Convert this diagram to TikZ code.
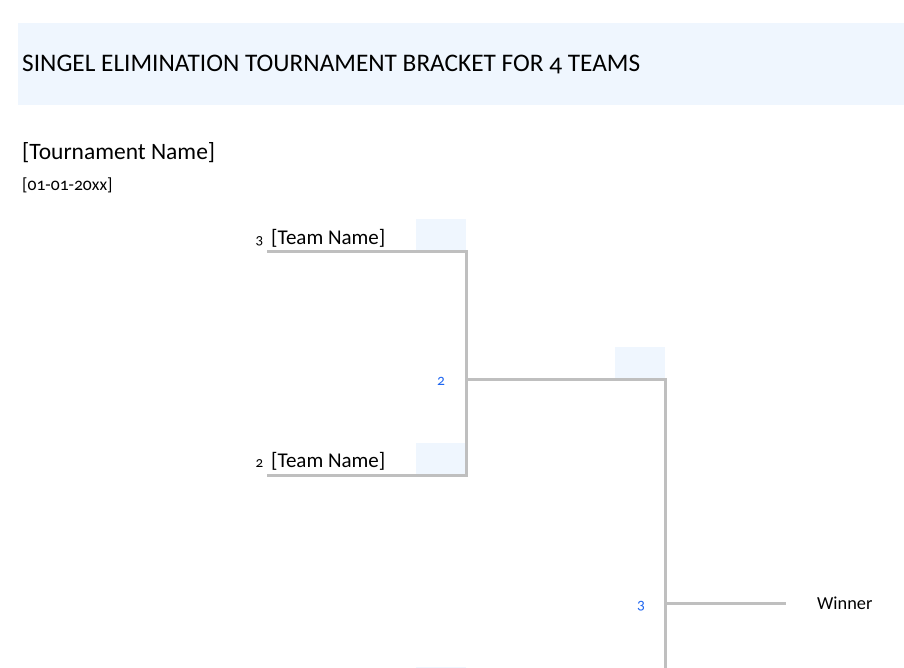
\documentclass[tikz,border=0pt]{standalone}
\usepackage{fontspec}
\setmainfont{Carlito}[Numbers=OldStyle]
\usepackage{xcolor}
\usetikzlibrary{positioning}
\definecolor{bandblue}{HTML}{EFF6FE}
\definecolor{linegray}{HTML}{BFBFBF}
\definecolor{seedblue}{HTML}{1F66F0}

\begin{document}
\begin{tikzpicture}[x=1pt,y=-1pt,
    bline/.style={draw=linegray,line width=3pt},
    scorebox/.style={fill=bandblue},
    lbl/.style={anchor=base west,inner sep=0pt},
    team/.style={lbl,font=\fontsize{21}{25}\selectfont},
    seed/.style={lbl,font=\fontsize{15}{18}\selectfont},
    game/.style={lbl,font=\fontsize{15.5}{18}\selectfont,text=seedblue}]
\useasboundingbox (0,0) rectangle (904,668);
% header
\fill[bandblue] (18,23) rectangle (904,105);
\node[lbl,font=\fontsize{25.3}{30}\selectfont] (title) at (22,72)
  {SINGEL ELIMINATION TOURNAMENT BRACKET FOR 4 TEAMS};
\node[lbl,font=\fontsize{23.5}{28}\selectfont] (tname) at (22,160) {[Tournament Name]};
\node[lbl,font=\fontsize{17.6}{21}\selectfont] (tdate) at (22,191) {[01-01-20xx]};
% score boxes
\fill[scorebox] (416,219) rectangle (466,250);
\fill[scorebox] (416,443) rectangle (466,474);
\fill[scorebox] (615,347) rectangle (665,378);
\fill[scorebox] (416,667) rectangle (466,680);
% round 1
\coordinate (a1) at (267,251.5);
\coordinate (a2) at (466,251.5);
\coordinate (b1) at (267,475);
\coordinate (b2) at (466,475);
\node[seed] (s1) at (255.5,244) {3};
\node[team] (n1) at (271,244) {[Team Name]};
\node[seed] (s2) at (255.5,467.5) {2};
\node[team] (n2) at (271,467.5) {[Team Name]};
\draw[bline] (a1) -- (a2) -- (b2) -- (b1);
% round 2
\coordinate (c1) at (466,379.5);
\coordinate (c2) at (665,379.5);
\coordinate (c3) at (665,680);
\node[game] (g2) at (437,385) {2};
\draw[bline] (c1) -- (c2) -- (c3);
% final
\coordinate (d1) at (665,603.5);
\coordinate (d2) at (785.5,603.5);
\node[game] (g3) at (637,609) {3};
\draw[bline] (d1) -- (d2);
\node[lbl,font=\fontsize{18.3}{22}\selectfont] (win) at (817,609) {Winner};
\end{tikzpicture}
\end{document}
